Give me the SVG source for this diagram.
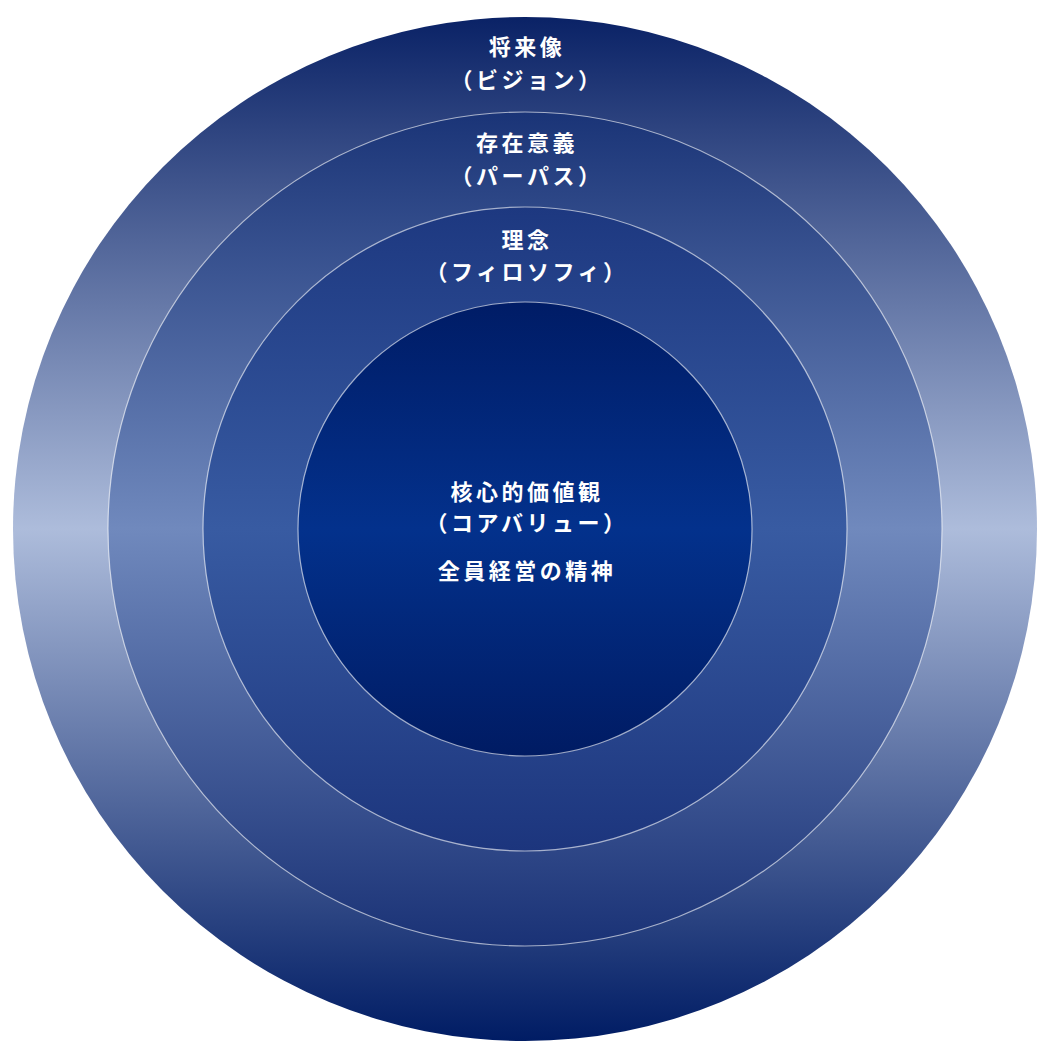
<svg xmlns="http://www.w3.org/2000/svg" width="1040" height="1050" viewBox="0 0 1040 1050">
<style>
.ring{stroke:#ffffff;stroke-opacity:0.6;stroke-width:1.2}
.lbl{font-family:"Noto Sans CJK JP","Noto Sans",sans-serif;font-size:22px;font-weight:700;fill:#ffffff;text-anchor:middle;letter-spacing:3.5px}
</style>
<defs>
<linearGradient id="g1" x1="0" y1="0" x2="0" y2="1">
<stop offset="0" stop-color="#0a2266"/>
<stop offset="0.5" stop-color="#adbcdb"/>
<stop offset="1" stop-color="#001c64"/>
</linearGradient>
<linearGradient id="g2" x1="0" y1="0" x2="0" y2="1">
<stop offset="0" stop-color="#1a3477"/>
<stop offset="0.5" stop-color="#7089bd"/>
<stop offset="1" stop-color="#1a3276"/>
</linearGradient>
<linearGradient id="g3" x1="0" y1="0" x2="0" y2="1">
<stop offset="0" stop-color="#1d3880"/>
<stop offset="0.5" stop-color="#385ba2"/>
<stop offset="1" stop-color="#1c357d"/>
</linearGradient>
<linearGradient id="g4" x1="0" y1="0" x2="0" y2="1">
<stop offset="0" stop-color="#001c66"/>
<stop offset="0.5" stop-color="#03318c"/>
<stop offset="1" stop-color="#001b63"/>
</linearGradient>
</defs>
<g id="vision">
<circle cx="525" cy="529" r="512" fill="url(#g1)"/>
<text class="lbl" x="527" y="55">将来像</text>
<text class="lbl" x="527" y="88">（ビジョン）</text>
</g>
<g id="purpose">
<circle class="ring" cx="525" cy="529" r="417" fill="url(#g2)"/>
<text class="lbl" x="527" y="151">存在意義</text>
<text class="lbl" x="527" y="184">（パーパス）</text>
</g>
<g id="philosophy">
<circle class="ring" cx="525" cy="529" r="322" fill="url(#g3)"/>
<text class="lbl" x="527" y="248">理念</text>
<text class="lbl" x="527" y="280">（フィロソフィ）</text>
</g>
<g id="core">
<circle class="ring" cx="525" cy="529" r="227" fill="url(#g4)"/>
<text class="lbl" x="527" y="500">核心的価値観</text>
<text class="lbl" x="527" y="531">（コアバリュー）</text>
<text class="lbl" x="527" y="579">全員経営の精神</text>
</g>
<g id="connectors"/>
</svg>
